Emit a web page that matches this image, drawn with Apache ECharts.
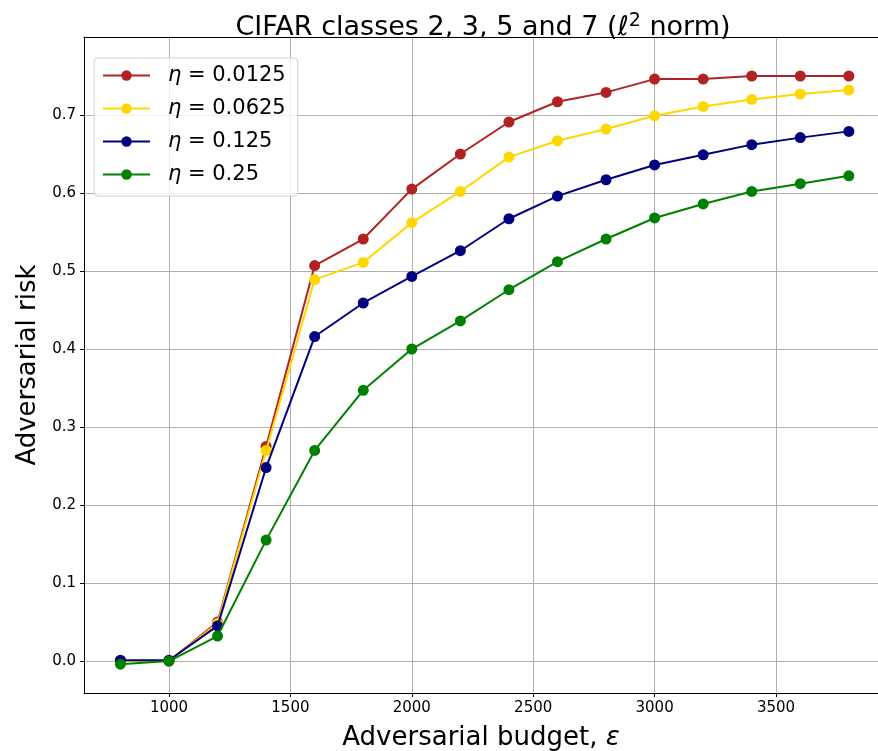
<!DOCTYPE html>
<html>
<head>
<meta charset="utf-8">
<script src="https://cdn.jsdelivr.net/npm/echarts@6/dist/echarts.min.js"></script>
<style>
  html, body { margin: 0; padding: 0; background: #fff; }
  #main { width: 878px; height: 751px; }
</style>
</head>
<body>
<div id="main"></div>
<script>
// budget values (epsilon)
var budgets = [800, 1000, 1200, 1400, 1600, 1800, 2000, 2200, 2400, 2600, 2800, 3000, 3200, 3400, 3600, 3800];

// adversarial risk per eta
var risk_0125 = [0.0, 0.0, 0.050, 0.275, 0.507, 0.541, 0.605, 0.650, 0.691, 0.717, 0.729, 0.746, 0.746, 0.750, 0.750, 0.750];
var risk_0625 = [0.0, 0.0, 0.048, 0.270, 0.489, 0.511, 0.562, 0.602, 0.646, 0.667, 0.682, 0.699, 0.711, 0.720, 0.727, 0.732];
var risk_125  = [0.001, 0.001, 0.045, 0.248, 0.416, 0.459, 0.493, 0.526, 0.567, 0.596, 0.617, 0.636, 0.649, 0.662, 0.671, 0.679];
var risk_25   = [-0.004, 0.0, 0.032, 0.155, 0.270, 0.347, 0.400, 0.436, 0.476, 0.512, 0.541, 0.568, 0.586, 0.602, 0.612, 0.622];

var xTicks = [1000, 1500, 2000, 2500, 3000, 3500];
var yTicks = [0, 0.1, 0.2, 0.3, 0.4, 0.5, 0.6, 0.7];

var names = ['η = 0.0125', 'η = 0.0625', 'η = 0.125', 'η = 0.25'];
var colors = ['#b22222', '#ffd700', '#000080', '#008000'];
var allData = [risk_0125, risk_0625, risk_125, risk_25];

var font = 'DejaVu Sans';

function pairs(ys) {
    var out = [];
    for (var i = 0; i < budgets.length; i++) {
        out.push([budgets[i], ys[i]]);
    }
    return out;
}

var series = [];
for (var k = 0; k < names.length; k++) {
    series.push({
        name: names[k],
        type: 'line',
        data: pairs(allData[k]),
        symbol: 'circle',
        symbolSize: 11,
        showSymbol: true,
        color: colors[k],
        lineStyle: { width: 2, color: colors[k] },
        itemStyle: { color: colors[k] },
        emphasis: { disabled: true },
        animation: false,
        z: 2 + k
    });
}

var chart = echarts.init(document.getElementById('main'));
var option = {
    backgroundColor: '#fff',
    animation: false,
    title: {
        text: 'CIFAR classes 2, 3, 5 and 7 ({l|ℓ}{s|2} norm)',
        left: 478,
        textAlign: 'center',
        top: 7,
        textStyle: {
            fontFamily: font,
            fontSize: 27,
            fontWeight: 'normal',
            color: '#000',
            lineHeight: 31,
            rich: {
                l: { fontFamily: font, fontSize: 27, fontStyle: 'italic', color: '#000', lineHeight: 31 },
                s: { fontFamily: font, fontSize: 19, color: '#000', verticalAlign: 'top', lineHeight: 20 }
            }
        }
    },
    legend: {
        orient: 'vertical',
        left: 94,
        top: 58,
        data: names,
        itemWidth: 47,
        itemHeight: 13,
        itemGap: 12,
        padding: [7, 12, 11, 8],
        backgroundColor: 'rgba(255,255,255,0.8)',
        borderColor: '#d0d0d0',
        borderWidth: 1,
        borderRadius: 4,
        formatter: function (name) {
            return '{i|η}' + name.slice(1);
        },
        textStyle: {
            fontFamily: font,
            fontSize: 21,
            color: '#000',
            padding: [0, 0, 0, 13],
            rich: {
                i: { fontFamily: font, fontSize: 21, fontStyle: 'italic', color: '#000' }
            }
        }
    },
    grid: {
        left: 84,
        right: 0,
        top: 37,
        bottom: 58,
        outerBoundsMode: 'none'
    },
    xAxis: [{
        type: 'value',
        min: 650,
        max: 3920,
        name: 'Adversarial budget, {e|ε}',
        nameLocation: 'middle',
        nameGap: 32,
        nameTextStyle: {
            fontFamily: font,
            fontSize: 26,
            color: '#000',
            rich: { e: { fontFamily: font, fontSize: 26, fontStyle: 'italic', color: '#000' } }
        },
        axisLine: { show: true, onZero: false, lineStyle: { color: '#000', width: 1 } },
        axisTick: { show: true, inside: false, length: 4, customValues: xTicks, lineStyle: { color: '#000' } },
        axisLabel: {
            customValues: xTicks,
            margin: 8,
            fontFamily: font,
            fontSize: 15,
            color: '#000',
            formatter: function (v) { return String(v); }
        },
        splitLine: { show: true, lineStyle: { color: '#b0b0b0', width: 1 } }
    }, {
        type: 'value',
        position: 'top',
        min: 650,
        max: 3920,
        axisLine: { show: true, onZero: false, lineStyle: { color: '#000', width: 1 } },
        axisTick: { show: false },
        axisLabel: { show: false },
        splitLine: { show: false }
    }],
    yAxis: {
        type: 'value',
        min: -0.041,
        max: 0.8,
        name: 'Adversarial risk',
        nameLocation: 'middle',
        nameGap: 42,
        nameTextStyle: { fontFamily: font, fontSize: 26, color: '#000' },
        axisLine: { show: true, onZero: false, lineStyle: { color: '#000', width: 1 } },
        axisTick: { show: true, inside: false, length: 4, customValues: yTicks, lineStyle: { color: '#000' } },
        axisLabel: {
            customValues: yTicks,
            margin: 8,
            fontFamily: font,
            fontSize: 15,
            color: '#000',
            formatter: function (v) { return v.toFixed(1); }
        },
        splitLine: { show: true, lineStyle: { color: '#b0b0b0', width: 1 } }
    },
    series: series
};
chart.setOption(option);
</script>
</body>
</html>
